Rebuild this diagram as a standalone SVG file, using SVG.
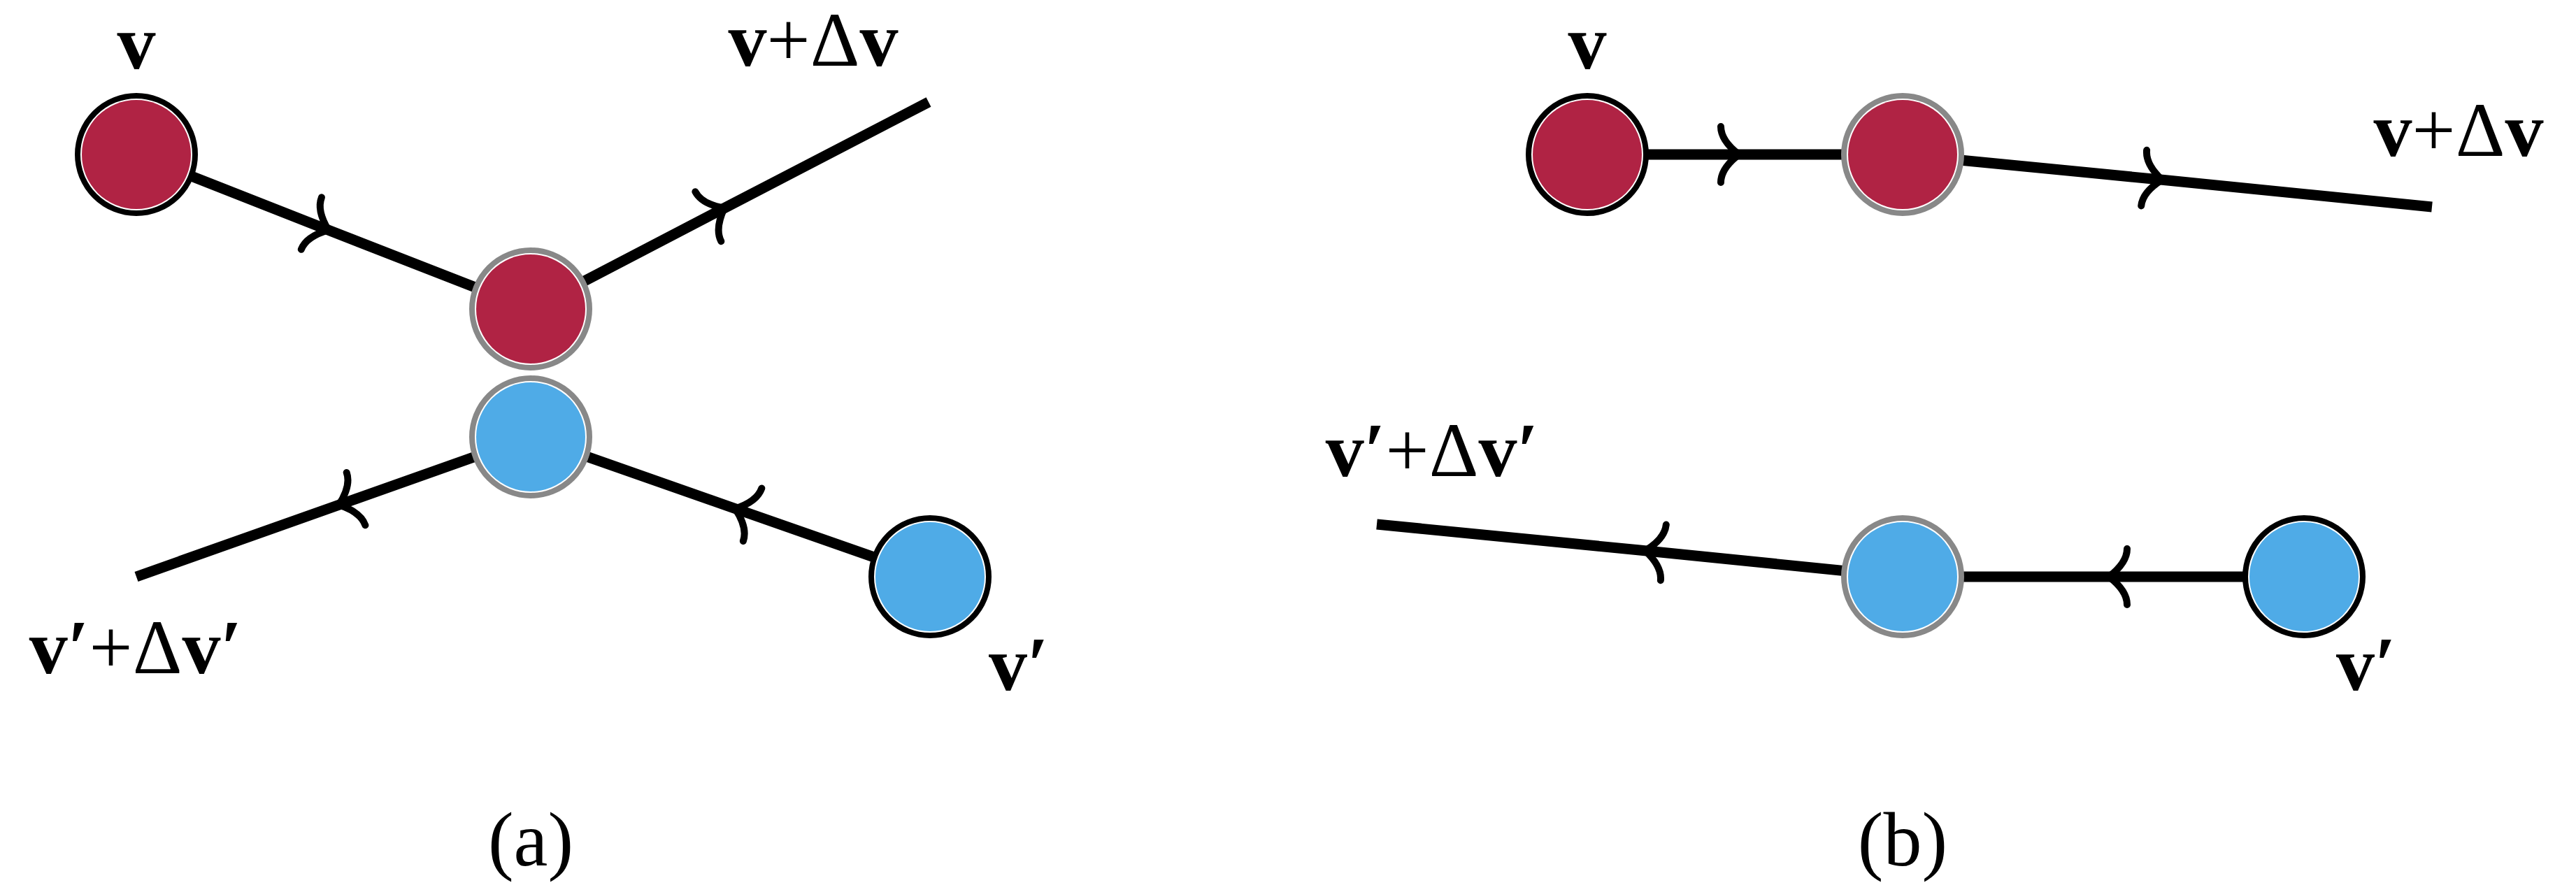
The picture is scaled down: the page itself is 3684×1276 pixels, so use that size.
<svg xmlns="http://www.w3.org/2000/svg" width="3684" height="1276" viewBox="0 0 3684 1276">
<style>
.ln{stroke:#000;stroke-width:15;fill:none;marker-mid:url(#chev)}
.ring{fill:#fff;stroke-width:8}
.outer{stroke:#000}
.inner{stroke:#888}
.red{fill:#b02344}
.blue{fill:#4fabe7}
text{font-family:"Liberation Serif",serif;font-size:110px;text-anchor:middle}
.b{font-weight:bold}
</style>
<defs>
<marker id="chev" markerUnits="userSpaceOnUse" markerWidth="120" markerHeight="120" viewBox="-60 -60 120 120" refX="0" refY="0" orient="auto" overflow="visible">
<path d="M-34,-40 Q-34,-20 -8,0 Q-34,20 -34,40" fill="none" stroke="#000" stroke-width="10" stroke-linecap="round"/>
</marker>
</defs>
<g id="connectors">
<path class="ln" d="M195,221 L477,332 L759,442"/>
<path class="ln" d="M759,442 L1043,294 L1328,146"/>
<path class="ln" d="M759,625 L477,725 L195,825"/>
<path class="ln" d="M1330,825 L1044,725 L759,625"/>
<path class="ln" d="M2270,221 L2495,221 L2721,221"/>
<path class="ln" d="M2721,221 L3100,258 L3478,296"/>
<path class="ln" d="M3295,825 L3008,825 L2721,825"/>
<path class="ln" d="M2721,825 L2345,787 L1969,750"/>
</g>
<g id="node-a-v"><circle class="ring outer" cx="195" cy="221" r="84"/><circle class="red" cx="195" cy="221" r="78"/></g>
<g id="node-a-red"><circle class="ring inner" cx="759" cy="442" r="84"/><circle class="red" cx="759" cy="442" r="78"/></g>
<g id="node-a-blue"><circle class="ring inner" cx="759" cy="625" r="84"/><circle class="blue" cx="759" cy="625" r="78"/></g>
<g id="node-a-vp"><circle class="ring outer" cx="1330" cy="825" r="84"/><circle class="blue" cx="1330" cy="825" r="78"/></g>
<g id="node-b-v"><circle class="ring outer" cx="2270" cy="221" r="84"/><circle class="red" cx="2270" cy="221" r="78"/></g>
<g id="node-b-red"><circle class="ring inner" cx="2721" cy="221" r="84"/><circle class="red" cx="2721" cy="221" r="78"/></g>
<g id="node-b-blue"><circle class="ring inner" cx="2721" cy="825" r="84"/><circle class="blue" cx="2721" cy="825" r="78"/></g>
<g id="node-b-vp"><circle class="ring outer" cx="3295" cy="825" r="84"/><circle class="blue" cx="3295" cy="825" r="78"/></g>
<g id="labels">
<text x="195" y="98" class="b">v</text>
<text x="1163" y="94"><tspan class="b">v</tspan>+Δ<tspan class="b">v</tspan></text>
<text x="194" y="963"><tspan class="b">v′</tspan>+Δ<tspan class="b">v′</tspan></text>
<text x="1457" y="987" class="b">v′</text>
<text x="759" y="1238">(a)</text>
<text x="2270" y="98" class="b">v</text>
<text x="3516" y="223"><tspan class="b">v</tspan>+Δ<tspan class="b">v</tspan></text>
<text x="2048" y="681"><tspan class="b">v′</tspan>+Δ<tspan class="b">v′</tspan></text>
<text x="3384" y="987" class="b">v′</text>
<text x="2721" y="1238">(b)</text>
</g>
</svg>
